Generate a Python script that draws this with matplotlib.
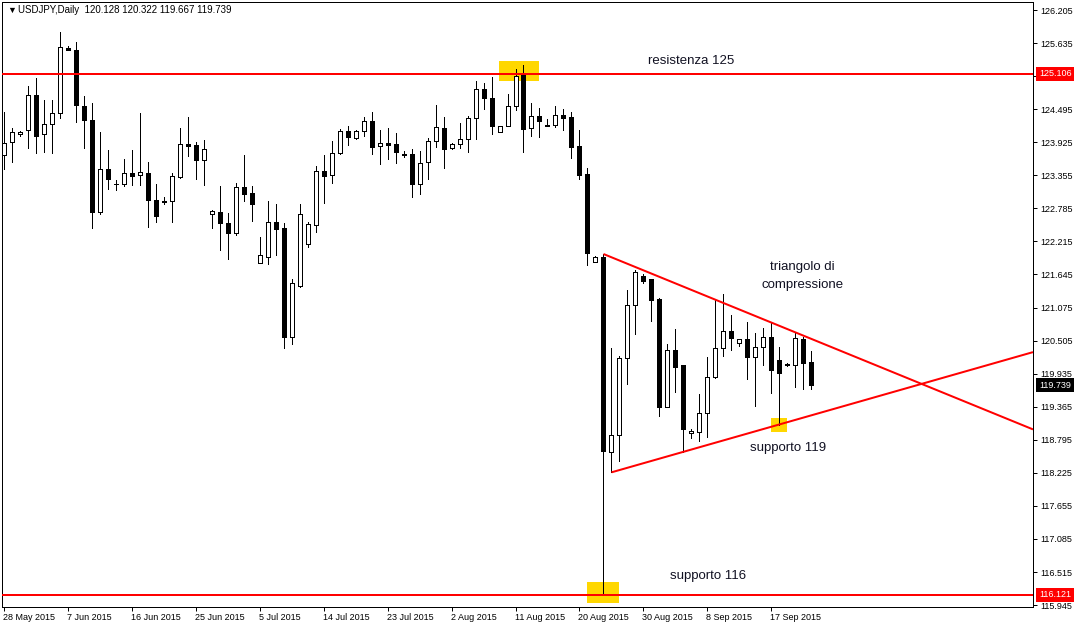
import matplotlib
matplotlib.use("Agg")
import matplotlib.pyplot as plt
import matplotlib.transforms as mtransforms
from matplotlib.patches import Rectangle
import numpy as np

plt.rcParams['font.family'] = ['Liberation Sans', 'DejaVu Sans']

# USDJPY daily bars (broker feed with Sunday bars), 28 May 2015 onwards
opens = [123.705, 123.924, 124.061, 124.130, 124.734, 124.061, 124.234, 124.424, 125.544, 125.510,
         124.544, 124.303, 122.717, 123.458, 123.199, 123.199, 123.389, 123.355, 123.389, 122.924,
         122.903, 122.906, 123.330, 123.894, 123.872, 123.624, 122.693, 122.722, 122.532, 122.365,
         123.153, 123.044, 121.848, 121.951, 122.549, 122.446, 120.572, 121.446, 122.175, 122.503,
         123.429, 123.355, 123.744, 124.118, 124.003, 124.113, 124.286, 123.855, 123.906, 123.889,
         123.722, 123.717, 123.210, 123.579, 123.941, 124.165, 123.820, 123.889, 123.975, 124.337,
         124.837, 124.682, 124.096, 124.199, 124.544, 125.084, 124.165, 124.372, 124.217, 124.227,
         124.389, 124.360, 123.860, 123.377, 121.855, 121.941, 118.579, 118.872, 120.199, 121.113,
         121.624, 121.561, 121.222, 119.365, 120.343, 120.079, 118.906, 118.934, 119.251, 119.877,
         120.372, 120.670, 120.468, 120.527, 120.217, 120.389, 120.572, 120.170, 120.101, 120.079,
         120.532, 120.128]
highs = [124.441, 124.175, 124.118, 124.894, 125.027, 124.648, 124.648, 125.820, 125.579, 125.648,
         124.722, 124.596, 124.096, 123.786, 123.268, 123.630, 123.786, 124.424, 123.579, 123.199,
         122.975, 123.389, 124.165, 124.355, 123.929, 123.963, 122.756, 123.170, 122.705, 123.222,
         123.705, 123.170, 122.291, 122.911, 122.860, 122.532, 121.567, 122.860, 122.549, 123.515,
         123.705, 123.946, 124.153, 124.205, 124.130, 124.360, 124.446, 124.130, 124.170, 124.079,
         123.768, 123.803, 123.774, 123.993, 124.561, 124.360, 123.906, 124.251, 124.372, 124.980,
         124.946, 125.044, 124.199, 124.751, 125.187, 125.251, 124.596, 124.510, 124.320, 124.544,
         124.493, 124.441, 124.130, 123.475, 121.968, 121.998, 120.382, 120.244, 121.377, 121.722,
         121.648, 121.561, 121.234, 120.446, 120.699, 120.079, 118.981, 119.584, 120.227, 121.205,
         121.308, 120.941, 120.527, 120.820, 120.630, 120.717, 120.825, 120.389, 120.118, 120.630,
         120.572, 120.322]
lows = [123.463, 123.579, 124.037, 123.830, 123.734, 123.761, 123.744, 124.337, 125.510, 124.268,
        123.830, 122.441, 122.682, 123.113, 123.096, 123.165, 123.182, 123.182, 122.458, 122.544,
        122.855, 122.544, 123.308, 123.687, 123.296, 123.187, 122.451, 122.067, 121.911, 122.325,
        122.917, 122.567, 121.848, 121.825, 121.980, 120.382, 120.441, 121.434, 122.118, 122.382,
        122.882, 123.222, 123.717, 123.877, 123.986, 124.037, 123.727, 123.544, 123.641, 123.572,
        123.675, 122.986, 123.037, 123.296, 123.848, 123.486, 123.813, 123.830, 123.761, 123.986,
        124.503, 124.072, 124.096, 124.199, 124.486, 123.761, 124.037, 124.020, 124.199, 124.193,
        124.141, 123.658, 123.296, 121.808, 121.855, 116.148, 118.234, 118.434, 119.756, 120.624,
        121.493, 120.848, 119.210, 119.355, 119.618, 118.584, 118.830, 118.779, 118.837, 119.855,
        120.244, 120.337, 120.411, 119.837, 119.382, 120.084, 119.596, 119.049, 120.067, 119.710,
        119.670, 119.667]
closes = [123.906, 124.106, 124.106, 124.734, 124.037, 124.234, 124.424, 125.561, 125.510, 124.561,
          124.303, 122.717, 123.458, 123.296, 123.205, 123.389, 123.348, 123.406, 122.924, 122.648,
          122.910, 123.337, 123.889, 123.865, 123.624, 123.808, 122.739, 122.537, 122.365, 123.153,
          123.037, 122.865, 121.975, 122.549, 122.434, 120.572, 121.498, 122.687, 122.510, 123.424,
          123.348, 123.734, 124.113, 124.020, 124.113, 124.286, 123.837, 123.906, 123.882, 123.761,
          123.699, 123.210, 123.561, 123.941, 124.182, 123.813, 123.889, 123.975, 124.337, 124.837,
          124.682, 124.199, 124.199, 124.544, 125.072, 124.158, 124.372, 124.286, 124.199, 124.389,
          124.348, 123.848, 123.365, 122.020, 121.941, 118.596, 118.872, 120.199, 121.113, 121.682,
          121.537, 121.210, 119.365, 120.343, 120.055, 118.986, 118.946, 119.251, 119.877, 120.372,
          120.670, 120.555, 120.527, 120.217, 120.389, 120.572, 119.998, 119.941, 120.084, 120.544,
          120.113, 119.739]

date_labels = ["28 May 2015", "7 Jun 2015", "16 Jun 2015", "25 Jun 2015", "5 Jul 2015",
               "14 Jul 2015", "23 Jul 2015", "2 Aug 2015", "11 Aug 2015", "20 Aug 2015",
               "30 Aug 2015", "8 Sep 2015", "17 Sep 2015"]
bars_per_date_label = 8

price_ticks = [126.205, 125.635, 125.065, 124.495, 123.925, 123.355, 122.785, 122.215, 121.645,
               121.075, 120.505, 119.935, 119.365, 118.795, 118.225, 117.655, 117.085, 116.515,
               115.945]

resistance_level = 125.106
support_level = 116.121

# trendline anchors (bar index, price)
upper_trend = [(75, 121.998), (100, 120.590)]
lower_trend = [(76, 118.234), (97, 119.060)]

# highlighted zones: (bar from, bar to, price low, price high)
zones = [(61.95, 66.9, 124.986, 125.325),
         (72.95, 76.9, 115.986, 116.343),
         (95.95, 97.9, 118.934, 119.165)]

W, H = 1076, 626
PX = 72 / 100  # one pixel in points

fig = plt.figure(figsize=(W / 100, H / 100), dpi=100)
fig.patch.set_facecolor('white')
ax = fig.add_axes([2 / W, 19 / H, 1031 / W, 605 / H])
ax.set_facecolor('white')

x = np.arange(len(opens))
o = np.array(opens)
c = np.array(closes)
hi = np.array(highs)
lo = np.array(lows)

# zones behind the candles
for x0, x1, p0, p1 in zones:
    ax.add_patch(Rectangle((x0, p0), x1 - x0, p1 - p0, facecolor='#FFD700',
                           edgecolor='none', zorder=1))

# candles
ax.vlines(x, lo, hi, color='black', linewidth=PX, antialiased=False, zorder=3)
body_low = np.minimum(o, c)
body_h = np.maximum(np.abs(c - o), 0.004)
colors = ['white' if cc > oo else 'black' for oo, cc in zip(o, c)]
ax.bar(x, body_h, bottom=body_low, width=0.5, color=colors, edgecolor='black',
       linewidth=PX, antialiased=False, zorder=4)

xlim = (-0.19, 128.69)
ax.set_xlim(*xlim)
ax.set_ylim(115.912, 126.343)

# horizontal levels
for lvl in (resistance_level, support_level):
    ax.axhline(lvl, color='#FF0000', linewidth=2 * PX, zorder=5)

# triangle trendlines, extended to the right edge
for (xa, ya), (xb, yb) in (upper_trend, lower_trend):
    slope = (yb - ya) / (xb - xa)
    xe = xlim[1]
    ax.plot([xa, xe], [ya, ya + slope * (xe - xa)], color='#FF0000',
            linewidth=2 * PX, zorder=5, solid_capstyle='butt')

# text labels
txt_kw = dict(fontsize=9.5, color='#111122', ha='center', va='center', zorder=6)
ax.text(86.0, 125.325, "resistenza 125", **txt_kw)
ax.text(99.8, 121.774, "triangolo di", **txt_kw)
ax.text(99.9, 121.464, "compressione", **txt_kw)
ax.text(98.1, 118.653, "supporto 119", **txt_kw)
ax.text(88.1, 116.446, "supporto 116", **txt_kw)

# axes frame and ticks
for sp in ax.spines.values():
    sp.set_color('black')
    sp.set_linewidth(PX)

# price tags drawn on the scale hide any regular label beneath them
tag_levels = [resistance_level, support_level, closes[-1]]
tag_colors = ['#FF0000', '#FF0000', 'black']
tag_half_height = 0.12


def tick_text(p):
    if any(abs(p - t) < tag_half_height for t in tag_levels):
        return ""
    return f"{p:.3f}"


ax.yaxis.tick_right()
ax.set_yticks(price_ticks)
ax.set_yticklabels([tick_text(p) for p in price_ticks])
ax.tick_params(axis='y', direction='out', length=4 * PX, width=PX, pad=3 * PX,
               labelsize=6.5, colors='black')

date_pos = np.arange(len(date_labels)) * bars_per_date_label
ax.set_xticks(date_pos)
ax.set_xticklabels(date_labels, ha='left')
ax.tick_params(axis='x', direction='out', length=4 * PX, width=PX, pad=2 * PX,
               labelsize=6.5, colors='black')
for lbl in ax.get_xticklabels():
    lbl.set_transform(lbl.get_transform() + mtransforms.ScaledTranslation(-1 / 100, 0, fig.dpi_scale_trans))

# price tags on the price scale
blend = mtransforms.blended_transform_factory(ax.transAxes, ax.transData)
tag_x = 1 + 6 / 1031
for val, bg in zip(tag_levels, tag_colors):
    ax.text(tag_x, val, f"{val:.3f}", transform=blend, ha='left', va='center',
            fontsize=6.5, color='white', clip_on=False, zorder=10,
            bbox=dict(boxstyle='square,pad=0.3', facecolor=bg, edgecolor='none'))

# header line
fig.text(7 / W, 1 - 10 / H, "\u25BC", fontsize=6.5, ha='left', va='center', color='black')
header = (f"USDJPY,Daily  {opens[-1]:.3f} {highs[-1]:.3f} "
          f"{lows[-1]:.3f} {closes[-1]:.3f}")
fig.text(18 / W, 1 - 10 / H, header, fontsize=7, ha='left', va='center', color='black')

fig.savefig("out.png", dpi=100, facecolor='white')
